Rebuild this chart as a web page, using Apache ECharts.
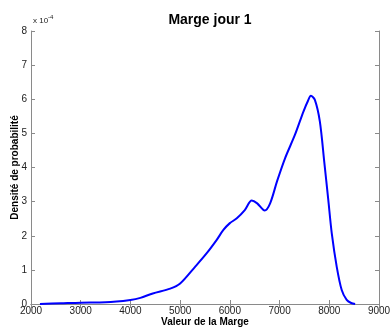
<!DOCTYPE html>
<html>
<head>
<meta charset="utf-8">
<style>
  html, body { margin: 0; padding: 0; background: #fff; }
  #chart { width: 390px; height: 329px; }
</style>
<script src="https://cdn.jsdelivr.net/npm/echarts@6/dist/echarts.min.js"></script>
</head>
<body>
<div id="chart"></div>
<script>
// valeurs de la marge (axe x)
var margeX = [2180, 2600, 3000, 3500, 4000, 4200, 4450, 4800, 5000, 5300, 5535,
  5736, 5870, 6000, 6140, 6300, 6440, 6550, 6700, 6810, 6950, 7110, 7310,
  7480, 7570, 7630, 7710, 7810, 7900, 7980, 8050, 8150, 8250, 8350, 8440, 8520];
// densité de probabilité, en unités de 1e-4
var densite = [0.0, 0.02, 0.04, 0.05, 0.12, 0.18, 0.31, 0.45, 0.6, 1.09, 1.49,
  1.88, 2.17, 2.37, 2.51, 2.75, 3.03, 2.95, 2.74, 2.95, 3.6, 4.27, 4.96,
  5.64, 5.95, 6.1, 5.98, 5.35, 4.15, 3.05, 2.07, 1.09, 0.41, 0.12, 0.03, 0.0];
var xTicks = [2000, 3000, 4000, 5000, 6000, 7000, 8000, 9000];
var yTicks = [0, 1, 2, 3, 4, 5, 6, 7, 8];

(function () {
    var myChart = echarts.init(document.getElementById("chart"));
    var font = "Liberation Sans, Arial, sans-serif";
    var gris = "#8a8a8a";

    var points = margeX.map(function (x, i) { return [x, densite[i]]; });

    var option = {
        animation: false,
        title: {
            text: "Marge jour 1",
            left: 205,
            textAlign: "center",
            top: 8,
            textStyle: { fontFamily: font, fontSize: 14, fontWeight: "bold", color: "#000" }
        },
        grid: { left: 31, right: 11, top: 31, bottom: 25, containLabel: false, outerBoundsMode: "none" },
        xAxis: [
            {
                type: "value",
                min: xTicks[0],
                max: xTicks[xTicks.length - 1],
                interval: 1000,
                name: "Valeur de la Marge",
                nameLocation: "middle",
                nameGap: 13,
                nameMoveOverlap: false,
                nameTextStyle: { fontFamily: font, fontSize: 10, fontWeight: "bold", color: "#000" },
                axisLine: { lineStyle: { color: gris, width: 1 } },
                axisTick: { inside: true, length: 4, lineStyle: { color: gris } },
                axisLabel: {
                    fontFamily: font, fontSize: 10, color: "#222", margin: 2,
                    formatter: function (v) { return String(v); }
                },
                splitLine: { show: false }
            },
            {
                type: "value",
                position: "top",
                min: xTicks[0],
                max: xTicks[xTicks.length - 1],
                interval: 1000,
                axisLine: { lineStyle: { color: gris, width: 1 } },
                axisTick: { inside: true, length: 4, lineStyle: { color: gris } },
                axisLabel: { show: false },
                splitLine: { show: false }
            }
        ],
        yAxis: [
            {
                type: "value",
                min: yTicks[0],
                max: yTicks[yTicks.length - 1],
                interval: 1,
                name: "Densité de probabilité",
                nameLocation: "middle",
                nameGap: 11,
                nameMoveOverlap: false,
                nameTextStyle: { fontFamily: font, fontSize: 10, fontWeight: "bold", color: "#000" },
                axisLine: { show: true, lineStyle: { color: gris, width: 1 } },
                axisTick: { show: true, inside: true, length: 4, lineStyle: { color: gris } },
                axisLabel: { fontFamily: font, fontSize: 10, color: "#222", margin: 4 },
                splitLine: { show: false }
            },
            {
                type: "value",
                position: "right",
                min: yTicks[0],
                max: yTicks[yTicks.length - 1],
                interval: 1,
                axisLine: { show: true, lineStyle: { color: gris, width: 1 } },
                axisTick: { show: true, inside: true, length: 4, lineStyle: { color: gris } },
                axisLabel: { show: false },
                splitLine: { show: false }
            }
        ],
        graphic: [
            {
                type: "text",
                left: 33,
                top: 14,
                style: {
                    text: "{a|x 10}{b|-4}",
                    rich: {
                        a: { fontFamily: font, fontSize: 8, fill: "#222", padding: [4, 0, 0, 0] },
                        b: { fontFamily: font, fontSize: 6, fill: "#222", padding: [0, 0, 4, 0] }
                    }
                }
            }
        ],
        series: [
            {
                type: "line",
                xAxisIndex: 0,
                yAxisIndex: 0,
                data: points,
                smooth: 0.3,
                showSymbol: false,
                lineStyle: { color: "#0000ff", width: 2 }
            }
        ]
    };
    myChart.setOption(option);
})();
</script>
</body>
</html>
